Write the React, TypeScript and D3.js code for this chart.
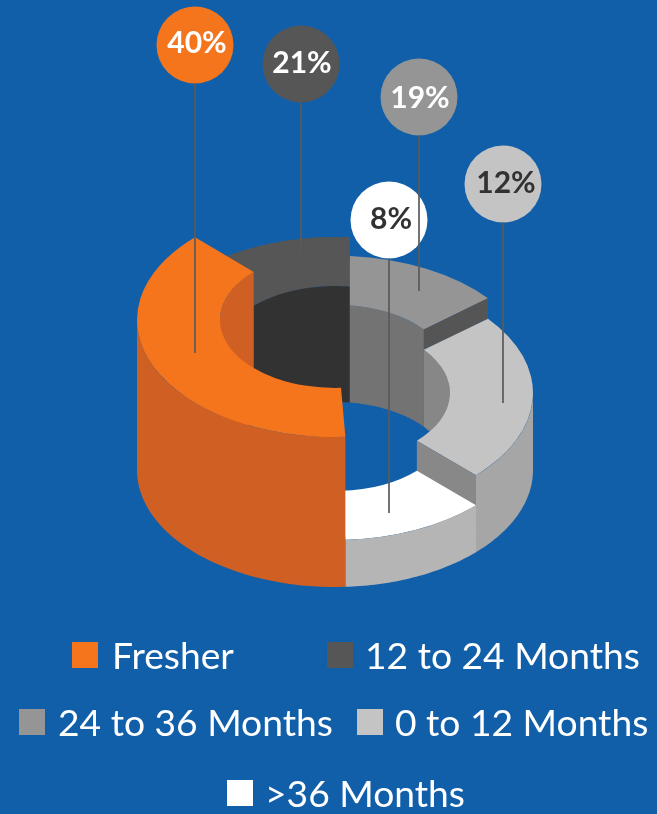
import React from "react";
import * as d3 from "d3";

const W = 657;
const H = 814;

const categories = ["Fresher", "12 to 24 Months", "24 to 36 Months", "0 to 12 Months", ">36 Months"];
const percents = [40, 21, 19, 12, 8];
// visual sweep (degrees) and extrusion of each slice
const sweeps = [138, 49.3, 46.3, 84, 42.4];
const heights = [150, 116, 97.4, 77, 47];
const topColors = ["#f5751e", "#565656", "#959595", "#c4c4c4", "#ffffff"];
const sideColors = ["#cf5f22", "#555555", "#555555", "#a6a6a6", "#b5b5b5"];
const wallColors = ["#cf5f22", "#333333", "#737373", "#878787", "#ffffff"];
const endColors = ["#cf5f22", "#555555", "#555555", "#888888", "#b5b5b5"];
const labelColors = ["#ffffff", "#ffffff", "#ffffff", "#333333", "#333333"];
const START_DEG = 177;

// callouts: circle centre x, centre y, end y of the leader, label x, label baseline
const calloutX = [195, 301, 419, 503, 389];
const calloutY = [45, 64, 97, 184, 220];
const leaderEnd = [353, 255, 291, 403, 513];
const labelX = [197, 302, 420, 506, 391];
const labelBase = [53, 73, 108, 193, 229];

const legendSwatchX = [72, 327, 19, 357, 227];
const legendTextX = [112, 365, 58, 395, 265];
const legendBaseline = [669, 669, 736, 736, 807];

const BG = "#125fa9";
const cx = 335;
const baseY = 470;
const rOuter = 198;
const rInner = 115;
const k = 0.591;

const yLevel = d3.scaleLinear().domain([0, 150]).range([baseY, baseY - 150]);
const rad = d3.scaleLinear().domain([0, 360]).range([0, 2 * Math.PI]);

const starts = d3.cumsum([START_DEG, ...sweeps.slice(0, -1)]);
const slices = categories.map((name, i) => ({
  i,
  name,
  a0: starts[i],
  a1: starts[i] + sweeps[i],
  h: heights[i],
}));

const pt = (deg: number, r: number, h: number): [number, number] => [
  cx + r * Math.sin(rad(deg)),
  yLevel(h) - r * k * Math.cos(rad(deg)),
];

const line = d3.line<[number, number]>();
const arcPts = (a0: number, a1: number, r: number, h: number) =>
  d3.range(0, 41).map((t) => pt(a0 + ((a1 - a0) * t) / 40, r, h));

// cylinder wall between two angles from level h down to the base
const wall = (a0: number, a1: number, r: number, h: number) =>
  line([...arcPts(a0, a1, r, h), ...arcPts(a1, a0, r, 0)]) + "Z";

// flat radial end face
const endFace = (a: number, h: number, low = 0) =>
  line([pt(a, rInner, h), pt(a, rOuter, h), pt(a, rOuter, low), pt(a, rInner, low)]) + "Z";

const topArc = d3.arc<any>().innerRadius(rInner).outerRadius(rOuter);

function Top({ s, extra = 0 }: { s: (typeof slices)[number]; extra?: number }) {
  return (
    <path
      d={topArc({ startAngle: rad(s.a0), endAngle: rad(s.a1 + extra) } as any) as string}
      transform={`translate(${cx},${yLevel(s.h)}) scale(1,${k})`}
      fill={topColors[s.i]}
    />
  );
}

export default function App() {
  const [orange, dark, grey, light, white] = slices;
  // the seam between the two back slices runs straight up the picture
  const seamX = pt(dark.a1, rOuter, 0)[0];
  return (
    <svg
      width={W}
      height={H}
      viewBox={`0 0 ${W} ${H}`}
      style={{ position: "absolute", left: 0, top: 0, display: "block", background: BG }}
    >
      <defs>
        <clipPath id="leftOfSeam">
          <rect x={0} y={0} width={seamX} height={H} />
        </clipPath>
        <clipPath id="rightOfSeam">
          <rect x={seamX} y={0} width={W - seamX} height={H} />
        </clipPath>
        <filter id="soft" x="0" y="0" width="100%" height="100%">
          <feGaussianBlur stdDeviation={0.45} />
        </filter>
      </defs>
      <g filter="url(#soft)">
        {/* back slices, painted back to front */}
        <g clipPath="url(#leftOfSeam)">
          <Top s={dark} extra={4} />
          <path d={wall(dark.a0, dark.a1 + 4, rInner, dark.h)} fill={wallColors[1]} />
        </g>
        <g clipPath="url(#rightOfSeam)">
          <path d={wall(grey.a0, grey.a1, rInner, grey.h)} fill={wallColors[2]} />
          <Top s={grey} />
        </g>
        <path d={endFace(grey.a1, grey.h, light.h)} fill={endColors[2]} />
        <path d={wall(orange.a1 - 45, orange.a1, rInner, orange.h)} fill={wallColors[0]} />

        {/* right slice */}
        <path d={wall(light.a0, 450, rInner, light.h)} fill={wallColors[3]} />
        <Top s={light} />
        <path d={wall(450, light.a1, rOuter, light.h)} fill={sideColors[3]} />
        <path d={endFace(light.a1, light.h)} fill={endColors[3]} />

        {/* front slice */}
        <Top s={white} />
        <path d={wall(white.a0, white.a1, rOuter, white.h)} fill={sideColors[4]} />

        {/* tallest slice */}
        <path d={wall(orange.a0, 270, rOuter, orange.h)} fill={sideColors[0]} />
        <Top s={orange} />

        {/* callouts and leaders */}
        {percents.map((p, i) => (
          <circle key={p} cx={calloutX[i]} cy={calloutY[i]} r={38.5} fill={topColors[i]} />
        ))}
        {percents.map((p, i) => (
          <line
            key={p}
            x1={calloutX[i]}
            x2={calloutX[i]}
            y1={calloutY[i] + 38.5}
            y2={leaderEnd[i]}
            stroke="#5a5a5a"
            strokeWidth={1.7}
          />
        ))}
        {percents.map((p, i) => (
          <text
            key={p}
            x={labelX[i]}
            y={labelBase[i]}
            textAnchor="middle"
            fontFamily="Lato, sans-serif"
            fontWeight={700}
            fontSize={30}
            fill={labelColors[i]}
          >
            {p}%
          </text>
        ))}

        {/* legend */}
        {categories.map((name, i) => (
          <g key={name}>
            <rect
              x={legendSwatchX[i]}
              y={legendBaseline[i] - 27}
              width={26}
              height={26}
              fill={topColors[i]}
            />
            <text
              x={legendTextX[i]}
              y={legendBaseline[i]}
              fontFamily="Lato, sans-serif"
              fontSize={37.2}
              fill="#ffffff"
            >
              {name}
            </text>
          </g>
        ))}
      </g>
    </svg>
  );
}
